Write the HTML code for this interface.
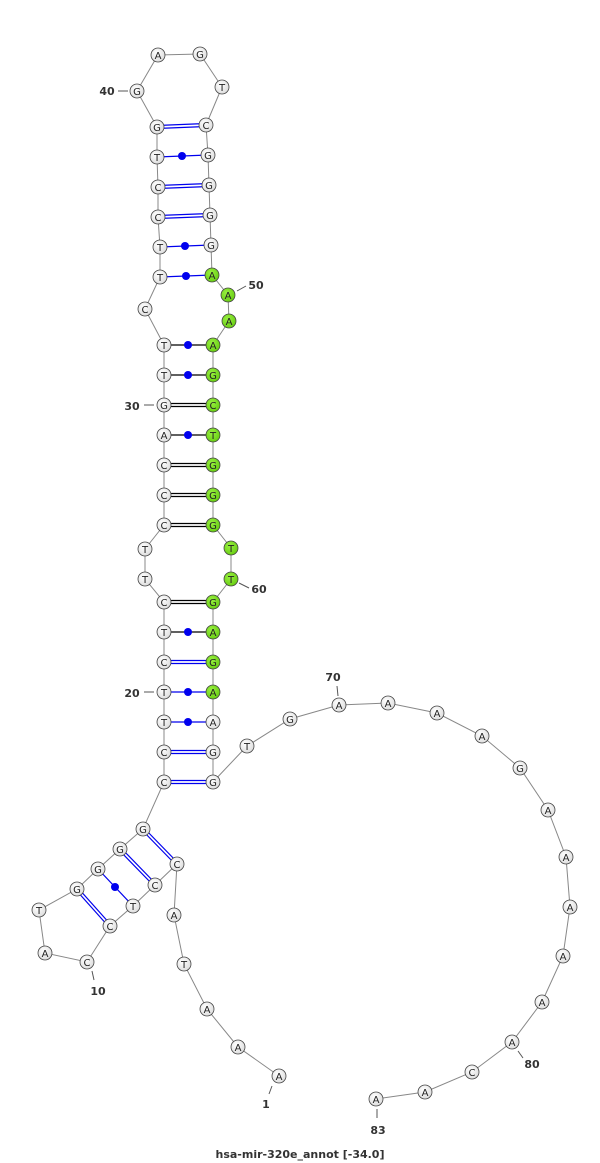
<!DOCTYPE html>
<html><head><meta charset="utf-8"><style>
html,body{margin:0;padding:0;background:#fff;}
svg{display:block;}
</style></head><body>
<svg width="600" height="1163" viewBox="0 0 600 1163" xmlns="http://www.w3.org/2000/svg">
<defs>
<radialGradient id="w" cx="0.4" cy="0.35" r="0.7"><stop offset="0" stop-color="#ffffff"/><stop offset="1" stop-color="#dcdcdc"/></radialGradient>
<radialGradient id="g" cx="0.4" cy="0.35" r="0.7"><stop offset="0" stop-color="#99f040"/><stop offset="1" stop-color="#66cc11"/></radialGradient>
</defs>
<polyline fill="none" stroke="#888" stroke-width="1" points="279,1076 238,1047 207,1009 184,964 174,915 177,864 155,885 133,906 110,926 87,962 45,953 39,910 77,889 98,869 120,849 143,829 164,782 164,752 164,722 164,692 164,662 164,632 164,602 145,579 145,549 164,525 164,495 164,465 164,435 164,405 164,375 164,345 145,309 160,277 160,247 158,217 158,187 157,157 157,127 137,91 158,55 200,54 222,87 206,125 208,155 209,185 210,215 211,245 212,275 228,295 229,321 213,345 213,375 213,405 213,435 213,465 213,495 213,525 231,548 231,579 213,602 213,632 213,662 213,692 213,722 213,752 213,782 247,746 290,719 339,705 388,703 437,713 482,736 520,768 548,810 566,857 570,907 563,956 542,1002 512,1042 472,1072 425,1092 376,1099"/>
<g stroke-width="1.2">
<!-- blue doubles -->
<g stroke="#0000ee">
<line x1="157" y1="125.5" x2="206" y2="123.5"/><line x1="157" y1="128.5" x2="206" y2="126.5"/>
<line x1="158" y1="185.5" x2="209" y2="183.5"/><line x1="158" y1="188.5" x2="209" y2="186.5"/>
<line x1="158" y1="215.5" x2="210" y2="213.5"/><line x1="158" y1="218.5" x2="210" y2="216.5"/>
<line x1="157" y1="157" x2="208" y2="155"/><line x1="160" y1="247" x2="211" y2="245"/><line x1="160" y1="277" x2="212" y2="275"/>
<line x1="164" y1="660.5" x2="213" y2="660.5"/><line x1="164" y1="663.5" x2="213" y2="663.5"/>
<line x1="164" y1="750.5" x2="213" y2="750.5"/><line x1="164" y1="753.5" x2="213" y2="753.5"/>
<line x1="164" y1="780.5" x2="213" y2="780.5"/><line x1="164" y1="783.5" x2="213" y2="783.5"/>
<line x1="164" y1="692" x2="213" y2="692"/><line x1="164" y1="722" x2="213" y2="722"/>
<line x1="144" y1="828" x2="178" y2="863"/><line x1="142" y1="830" x2="176" y2="865"/>
<line x1="121" y1="848" x2="156" y2="884"/><line x1="119" y1="850" x2="154" y2="886"/>
<line x1="78" y1="888" x2="111" y2="925"/><line x1="76" y1="890" x2="109" y2="927"/>
<line x1="98" y1="869" x2="133" y2="906"/>
</g>
<g stroke="#000">
<line x1="164" y1="345" x2="213" y2="345"/><line x1="164" y1="375" x2="213" y2="375"/><line x1="164" y1="435" x2="213" y2="435"/><line x1="164" y1="632" x2="213" y2="632"/>
<line x1="164" y1="403.5" x2="213" y2="403.5"/><line x1="164" y1="406.5" x2="213" y2="406.5"/>
<line x1="164" y1="463.5" x2="213" y2="463.5"/><line x1="164" y1="466.5" x2="213" y2="466.5"/>
<line x1="164" y1="493.5" x2="213" y2="493.5"/><line x1="164" y1="496.5" x2="213" y2="496.5"/>
<line x1="164" y1="523.5" x2="213" y2="523.5"/><line x1="164" y1="526.5" x2="213" y2="526.5"/>
<line x1="164" y1="600.5" x2="213" y2="600.5"/><line x1="164" y1="603.5" x2="213" y2="603.5"/>
</g>
</g>
<g fill="#0000ee">
<circle cx="182" cy="156" r="4"/><circle cx="185" cy="246" r="4"/><circle cx="186" cy="276" r="4"/>
<circle cx="188" cy="345" r="4"/><circle cx="188" cy="375" r="4"/><circle cx="188" cy="435" r="4"/><circle cx="188" cy="632" r="4"/>
<circle cx="188" cy="692" r="4"/><circle cx="188" cy="722" r="4"/><circle cx="115" cy="887" r="4"/>
</g>
<g stroke="#555" stroke-width="1">
<line x1="118" y1="91" x2="128" y2="91"/><line x1="237" y1="291" x2="246" y2="286"/><line x1="144" y1="405" x2="154" y2="405"/><line x1="239" y1="583" x2="249" y2="588"/><line x1="144" y1="692" x2="154" y2="692"/><line x1="337" y1="686" x2="338" y2="696"/><line x1="92" y1="971" x2="94" y2="980"/><line x1="272" y1="1086" x2="269" y2="1094"/><line x1="518" y1="1051" x2="523" y2="1058"/><line x1="377" y1="1109" x2="377" y2="1118"/>
</g>
<g font-family="Liberation Sans, sans-serif" font-size="10" text-anchor="middle" stroke="#444" stroke-width="0.8">
<g id="nodes"></g>
</g>
<g font-family="DejaVu Sans, sans-serif" font-size="11" font-weight="bold" fill="#333" text-anchor="middle">
<text x="107" y="95">40</text><text x="256" y="289">50</text><text x="132" y="410">30</text><text x="259" y="593">60</text><text x="132" y="697">20</text><text x="333" y="681">70</text><text x="98" y="995">10</text><text x="266" y="1108">1</text><text x="532" y="1068">80</text><text x="378" y="1134">83</text>
<text x="300" y="1158" font-size="11">hsa-mir-320e_annot [-34.0]</text>
</g>
<g font-family="DejaVu Sans, sans-serif" font-size="10" text-anchor="middle" stroke="#444" stroke-width="0.8">
<g fill="url(#w)">
<circle cx="279" cy="1076" r="7"/><circle cx="238" cy="1047" r="7"/><circle cx="207" cy="1009" r="7"/><circle cx="184" cy="964" r="7"/><circle cx="174" cy="915" r="7"/><circle cx="177" cy="864" r="7"/><circle cx="155" cy="885" r="7"/><circle cx="133" cy="906" r="7"/><circle cx="110" cy="926" r="7"/><circle cx="87" cy="962" r="7"/><circle cx="45" cy="953" r="7"/><circle cx="39" cy="910" r="7"/><circle cx="77" cy="889" r="7"/><circle cx="98" cy="869" r="7"/><circle cx="120" cy="849" r="7"/><circle cx="143" cy="829" r="7"/>
<circle cx="164" cy="782" r="7"/><circle cx="164" cy="752" r="7"/><circle cx="164" cy="722" r="7"/><circle cx="164" cy="692" r="7"/><circle cx="164" cy="662" r="7"/><circle cx="164" cy="632" r="7"/><circle cx="164" cy="602" r="7"/><circle cx="145" cy="579" r="7"/><circle cx="145" cy="549" r="7"/><circle cx="164" cy="525" r="7"/><circle cx="164" cy="495" r="7"/><circle cx="164" cy="465" r="7"/><circle cx="164" cy="435" r="7"/><circle cx="164" cy="405" r="7"/><circle cx="164" cy="375" r="7"/><circle cx="164" cy="345" r="7"/><circle cx="145" cy="309" r="7"/><circle cx="160" cy="277" r="7"/><circle cx="160" cy="247" r="7"/><circle cx="158" cy="217" r="7"/><circle cx="158" cy="187" r="7"/><circle cx="157" cy="157" r="7"/><circle cx="157" cy="127" r="7"/><circle cx="137" cy="91" r="7"/><circle cx="158" cy="55" r="7"/><circle cx="200" cy="54" r="7"/><circle cx="222" cy="87" r="7"/><circle cx="206" cy="125" r="7"/><circle cx="208" cy="155" r="7"/><circle cx="209" cy="185" r="7"/><circle cx="210" cy="215" r="7"/><circle cx="211" cy="245" r="7"/>
<circle cx="213" cy="722" r="7"/><circle cx="213" cy="752" r="7"/><circle cx="213" cy="782" r="7"/><circle cx="247" cy="746" r="7"/><circle cx="290" cy="719" r="7"/><circle cx="339" cy="705" r="7"/><circle cx="388" cy="703" r="7"/><circle cx="437" cy="713" r="7"/><circle cx="482" cy="736" r="7"/><circle cx="520" cy="768" r="7"/><circle cx="548" cy="810" r="7"/><circle cx="566" cy="857" r="7"/><circle cx="570" cy="907" r="7"/><circle cx="563" cy="956" r="7"/><circle cx="542" cy="1002" r="7"/><circle cx="512" cy="1042" r="7"/><circle cx="472" cy="1072" r="7"/><circle cx="425" cy="1092" r="7"/><circle cx="376" cy="1099" r="7"/>
</g>
<g fill="url(#g)">
<circle cx="212" cy="275" r="7"/><circle cx="228" cy="295" r="7"/><circle cx="229" cy="321" r="7"/><circle cx="213" cy="345" r="7"/><circle cx="213" cy="375" r="7"/><circle cx="213" cy="405" r="7"/><circle cx="213" cy="435" r="7"/><circle cx="213" cy="465" r="7"/><circle cx="213" cy="495" r="7"/><circle cx="213" cy="525" r="7"/><circle cx="231" cy="548" r="7"/><circle cx="231" cy="579" r="7"/><circle cx="213" cy="602" r="7"/><circle cx="213" cy="632" r="7"/><circle cx="213" cy="662" r="7"/><circle cx="213" cy="692" r="7"/>
</g>
<g fill="#222" stroke="none" dy="3.5">
<text x="279" y="1080">A</text><text x="238" y="1051">A</text><text x="207" y="1013">A</text><text x="184" y="968">T</text><text x="174" y="919">A</text><text x="177" y="868">C</text><text x="155" y="889">C</text><text x="133" y="910">T</text><text x="110" y="930">C</text><text x="87" y="966">C</text><text x="45" y="957">A</text><text x="39" y="914">T</text><text x="77" y="893">G</text><text x="98" y="873">G</text><text x="120" y="853">G</text><text x="143" y="833">G</text>
<text x="164" y="786">C</text><text x="164" y="756">C</text><text x="164" y="726">T</text><text x="164" y="696">T</text><text x="164" y="666">C</text><text x="164" y="636">T</text><text x="164" y="606">C</text><text x="145" y="583">T</text><text x="145" y="553">T</text><text x="164" y="529">C</text><text x="164" y="499">C</text><text x="164" y="469">C</text><text x="164" y="439">A</text><text x="164" y="409">G</text><text x="164" y="379">T</text><text x="164" y="349">T</text><text x="145" y="313">C</text><text x="160" y="281">T</text><text x="160" y="251">T</text><text x="158" y="221">C</text><text x="158" y="191">C</text><text x="157" y="161">T</text><text x="157" y="131">G</text><text x="137" y="95">G</text><text x="158" y="59">A</text><text x="200" y="58">G</text><text x="222" y="91">T</text><text x="206" y="129">C</text><text x="208" y="159">G</text><text x="209" y="189">G</text><text x="210" y="219">G</text><text x="211" y="249">G</text>
<text x="212" y="279">A</text><text x="228" y="299">A</text><text x="229" y="325">A</text><text x="213" y="349">A</text><text x="213" y="379">G</text><text x="213" y="409">C</text><text x="213" y="439">T</text><text x="213" y="469">G</text><text x="213" y="499">G</text><text x="213" y="529">G</text><text x="231" y="552">T</text><text x="231" y="583">T</text><text x="213" y="606">G</text><text x="213" y="636">A</text><text x="213" y="666">G</text><text x="213" y="696">A</text><text x="213" y="726">A</text><text x="213" y="756">G</text><text x="213" y="786">G</text>
<text x="247" y="750">T</text><text x="290" y="723">G</text><text x="339" y="709">A</text><text x="388" y="707">A</text><text x="437" y="717">A</text><text x="482" y="740">A</text><text x="520" y="772">G</text><text x="548" y="814">A</text><text x="566" y="861">A</text><text x="570" y="911">A</text><text x="563" y="960">A</text><text x="542" y="1006">A</text><text x="512" y="1046">A</text><text x="472" y="1076">C</text><text x="425" y="1096">A</text><text x="376" y="1103">A</text>
</g>
</g>
</svg>
</body></html>
